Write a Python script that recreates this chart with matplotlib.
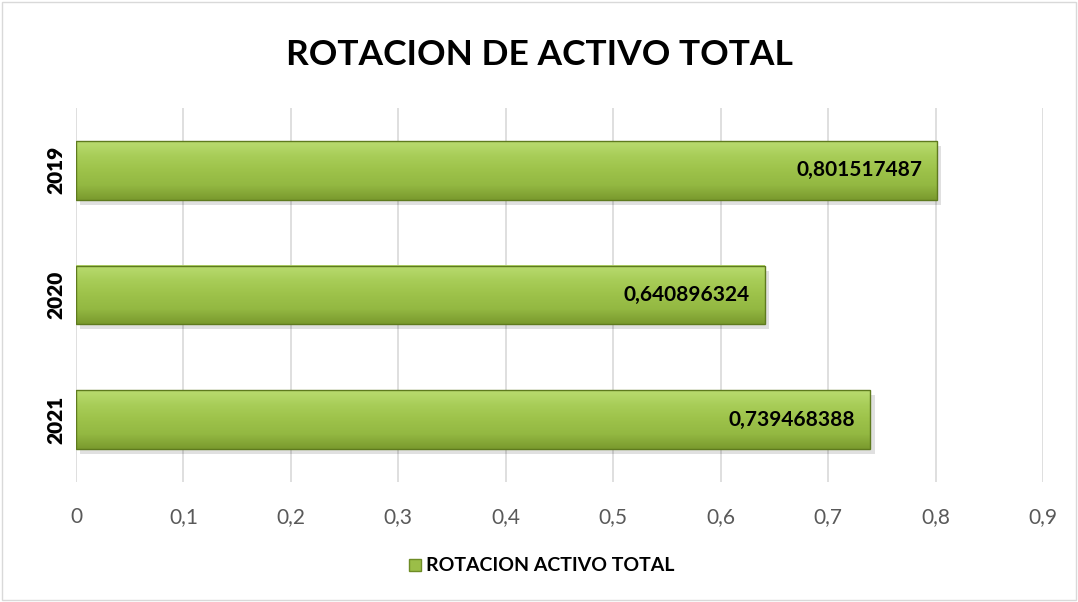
import numpy as np
import matplotlib.pyplot as plt
from matplotlib.patches import Rectangle
from matplotlib.lines import Line2D

years = ['2019', '2020', '2021']
rotacion = [0.801517487, 0.640896324, 0.739468388]
value_labels = ['0,801517487', '0,640896324', '0,739468388']
xticks = [0, 0.1, 0.2, 0.3, 0.4, 0.5, 0.6, 0.7, 0.8, 0.9]
xtick_labels = ['0', '0,1', '0,2', '0,3', '0,4', '0,5', '0,6', '0,7', '0,8', '0,9']

plt.rcParams['font.family'] = ['Lato', 'DejaVu Sans']

fig = plt.figure(figsize=(10.78, 6.02), dpi=100)
ax = fig.add_axes([0.0705, 0.1993, 0.897, 0.6213])

ypos = np.arange(len(years))[::-1]  # 2019 at top
bar_h = 0.47

# vertical gradient for the bevelled look (top row first)
grad = np.linspace(0, 1, 100).reshape(-1, 1)
cmap = plt.matplotlib.colors.LinearSegmentedColormap.from_list(
    'g', ['#B9DB70', '#A8CD58', '#9DC24A', '#93B842', '#7A9A2E'])

for y, v, lab in zip(ypos, rotacion, value_labels):
    # shadow
    ax.add_patch(Rectangle((0.004, y - bar_h / 2 - 0.04), v, bar_h,
                           facecolor='#000000', alpha=0.12, edgecolor='none', zorder=2))
    ax.imshow(grad, cmap=cmap, aspect='auto', zorder=3, origin='lower',
              extent=(0, v, y + bar_h / 2, y - bar_h / 2), interpolation='bicubic')
    ax.add_patch(Rectangle((0, y - bar_h / 2), v, bar_h, facecolor='none',
                           edgecolor='#5E7A1E', linewidth=1.0, zorder=4))
    ax.text(v - 0.014, y, lab, ha='right', va='center', fontsize=15,
            fontweight='bold', color='#000000', zorder=5)

ax.set_xlim(0, 0.9)
ax.set_ylim(-0.5, 2.5)
ax.set_xticks(xticks)
ax.set_xticklabels(xtick_labels)
ax.set_yticks(ypos)
ax.set_yticklabels(years, rotation=90, va='center')
for t in ax.get_yticklabels():
    t.set_fontweight('heavy')
ax.tick_params(axis='both', length=0)
ax.tick_params(axis='x', pad=18, labelsize=15, labelcolor='#595959')
ax.tick_params(axis='y', pad=8, labelsize=15)
ax.grid(axis='x', color='#D9D9D9', linewidth=1.2, zorder=0)
ax.set_axisbelow(True)
for s in ax.spines.values():
    s.set_visible(False)

fig.text(0.5, 0.908, 'ROTACION DE ACTIVO TOTAL', ha='center', va='center',
         fontsize=25.5, fontweight='bold', color='#000000')

handle = Line2D([], [], marker='s', linestyle='none', markersize=9,
                markerfacecolor='#9BBE48', markeredgecolor='#6E8C26')
fig.legend([handle], ['ROTACION ACTIVO TOTAL'], loc='center',
           bbox_to_anchor=(0.5, 0.06), frameon=False,
           prop={'weight': 'bold', 'size': 14}, handletextpad=0.0,
           handlelength=1.2)

fig.patches.append(Rectangle((0.002, 0.003), 0.996, 0.994, transform=fig.transFigure,
                             facecolor='none', edgecolor='#D9D9D9', linewidth=1))

fig.savefig('out.png', dpi=100)
